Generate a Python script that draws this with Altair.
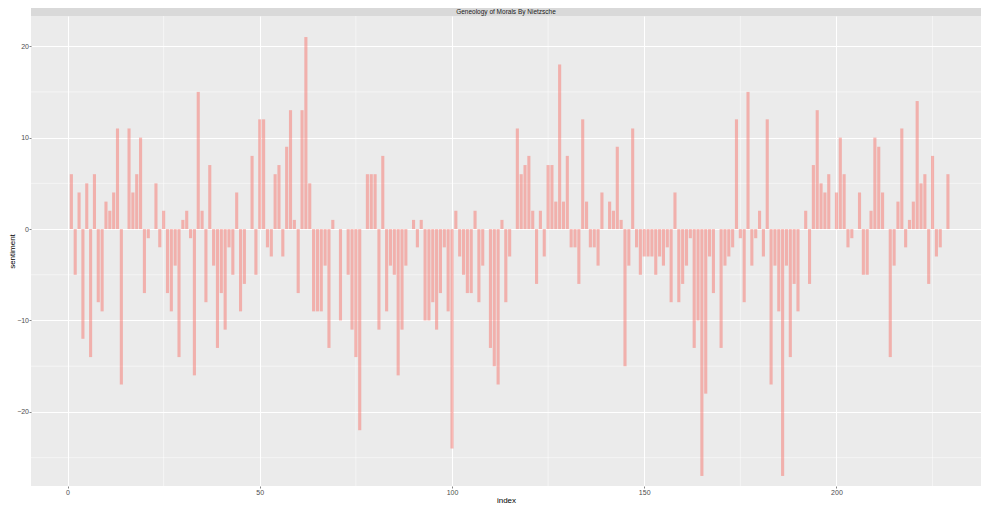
import altair as alt
import pandas as pd

title_text = "Geneology of Morals By Nietzsche"

sentiment = [
    6, -5, 4, -12, 5, -14, 6, -8, -9, 3, 2, 4, 11, -17, 0, 11, 4, 6, 10, -7, -1,
    0,
    5, -2, 2, -7, -9, -4, -14, 1, 2, -1, -16, 15, 2, -8, 7, -4, -13, -7, -11, -2, -5, 4, -9, -6,
    0,
    8, -5, 12, 12, -2, -3, 6, 7, -3, 9, 13, 1, -7, 13, 21, 5, -9, -9, -9, -4, -13, 1, 0, -10,
    0, -5, -11, -14, -22, 0, 6, 6, 6, -11, 8, -9, -4, -5, -16, -11, -4, 0, 1, -2, 1, -10, -10, -8, -11,
    -7, -2, -9, -24, 2, -3, -5, -7, -7, 2, -8, -4, 0, -13, -15, -17, 1, -8, -3, 0, 11, 6, 7, 8, 2,
    -6, 2, -3, 7, 7, 3, 18, 3, 8, -2, -2, -6, 12, 3, -2, -2, -4, 4, 0, 3, 2, 9, 1, -15,
    -4, 11, -2, -5, -3, -3, -3, -5, -3, -4, -2, -8, 4, -8, -6, -4, -1, -13, -10, -27, -18, -3, -7, 0, -13,
    -4, -3, -2, 12, -1, -8, 15, -4, -1, 2, -3, 12, -17, -4, -9, -27, -4, -14, -6, -9, 0, 2, -6, 7, 13,
    5, 4, 6, 0, 4, 10, 6, -2, -1, 0, 4, -5, -5, 2, 10, 9, 4, 0, -14, -4, 3, 11, -2, 1, 3,
    14, 5, 6, -6, 8, -3, -2, 0, 6,
]
index = list(range(1, len(sentiment) + 1))

x_ticks = [0, 50, 100, 150, 200]
y_ticks = [-20, -10, 0, 10, 20]
x_minor = [25, 75, 125, 175, 225]
y_minor = [-25, -15, -5, 5, 15]
x_domain = [-8.2, 236.3]
y_domain = [-28.1, 23.3]

W, H = 950, 470
STRIP = 8
FONT = "Liberation Sans"

df = pd.DataFrame({"index": index, "sentiment": sentiment})
df = df[df["sentiment"] != 0]

xs = alt.Scale(domain=x_domain, nice=False, zero=False)
ys = alt.Scale(domain=y_domain, nice=False, zero=False)

x_axis = alt.Axis(values=x_ticks, grid=True, gridColor="white", gridWidth=1,
                  labelFlush=False, labelOverlap=False, title="index")
y_axis = alt.Axis(values=y_ticks, grid=True, gridColor="white", gridWidth=1,
                  labelOverlap=False, title="sentiment")

minor_x = alt.Chart(pd.DataFrame({"index": x_minor})).mark_rule(
    color="white", strokeWidth=0.5
).encode(x=alt.X("index:Q", scale=xs, axis=x_axis))

minor_y = alt.Chart(pd.DataFrame({"sentiment": y_minor})).mark_rule(
    color="white", strokeWidth=0.5
).encode(y=alt.Y("sentiment:Q", scale=ys, axis=y_axis))

bars = alt.Chart(df).mark_bar(width=3.1, color="#F8766D", opacity=0.5).encode(
    x=alt.X("index:Q", scale=xs, axis=x_axis),
    y=alt.Y("sentiment:Q", scale=ys, axis=y_axis),
)

strip_df = pd.DataFrame({"label": [title_text]})
strip_rect = alt.Chart(strip_df).mark_rect(color="#D9D9D9", clip=False).encode(
    x=alt.value(0), x2=alt.value(W), y=alt.value(-STRIP), y2=alt.value(0)
)
strip_text = alt.Chart(strip_df).mark_text(
    font=FONT, fontSize=6.5, color="#1A1A1A", baseline="middle", align="center", clip=False
).encode(x=alt.value(W / 2), y=alt.value(-STRIP / 2), text="label:N")

chart = alt.layer(minor_x, minor_y, bars, strip_rect, strip_text).properties(
    width=W, height=H, padding=0, background="white"
).configure_view(
    fill="#EBEBEB", strokeWidth=0
).configure_axis(
    domain=False,
    labelFont=FONT,
    labelFontSize=7,
    labelColor="#4D4D4D",
    labelPadding=0.5,
    tickColor="#333333",
    tickSize=2,
    tickWidth=0.6,
    titleFont=FONT,
    titleFontSize=8,
    titleFontWeight="normal",
    titleColor="#000000",
    titlePadding=0.5,
)

chart.save("out.html", embed_options={"renderer": "svg", "actions": False})
